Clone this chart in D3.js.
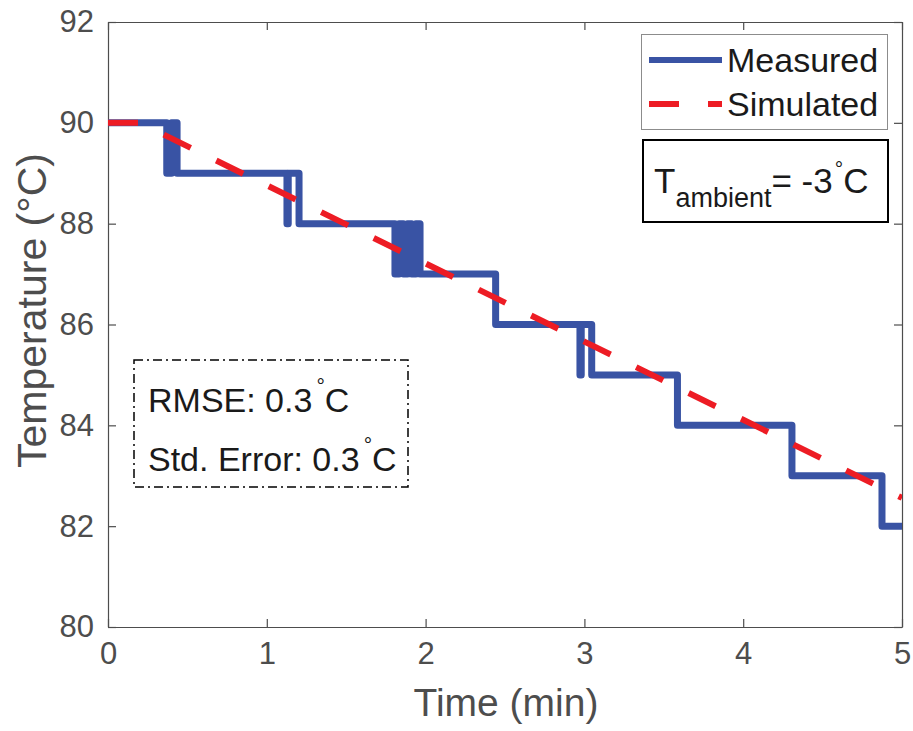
<!DOCTYPE html>
<html>
<head>
<meta charset="utf-8">
<script src="https://cdn.jsdelivr.net/npm/d3@7"></script>
<style>
  html, body { margin: 0; padding: 0; background: #fff; }
  text { font-family: "Liberation Sans", Arial, Helvetica, sans-serif; }
</style>
</head>
<body>
<svg id="chart" width="913" height="731"></svg>
<script>
// ---- data ----
const xTicks = [0, 1, 2, 3, 4, 5];
const yTicks = [80, 82, 84, 86, 88, 90, 92];

const measuredTime = [0, 0.370, 0.370, 0.400, 0.400, 0.435, 0.435,
  1.127, 1.127, 1.135, 1.135, 1.203, 1.203,
  1.807, 1.807, 1.833, 1.833, 1.860, 1.860, 1.886, 1.886, 1.912, 1.912, 1.939, 1.939, 1.965, 1.965,
  2.441, 2.441,
  2.972, 2.972, 2.980, 2.980, 3.046, 3.046,
  3.586, 3.586,
  4.307, 4.307,
  4.874, 4.874, 5.0];
const measuredTemp = [90, 90, 89, 89, 90, 90, 89,
  89, 88, 88, 89, 89, 88,
  88, 87, 87, 88, 88, 87, 87, 88, 88, 87, 87, 88, 88, 87,
  87, 86,
  86, 85, 85, 86, 86, 85,
  85, 84,
  84, 83,
  83, 82, 82];

const simulatedTime = [0, 0.2, 1, 2, 3, 4, 5];
const simulatedTemp = [90, 90, 88.76, 87.21, 85.66, 84.11, 82.56];

const legendLabels = ["Measured", "Simulated"];

// ---- layout ----
const W = 913, H = 731;
const m = { left: 108, right: 11, top: 22, bottom: 104 };
const iw = W - m.left - m.right, ih = H - m.top - m.bottom;
const axisColor = "#4d4d4d";
const blue = "#3953A4", red = "#ED1C24";

const svg = d3.select("#chart");
const x = d3.scaleLinear().domain([0, 5]).range([m.left, m.left + iw]);
const y = d3.scaleLinear().domain([80, 92]).range([m.top + ih, m.top]);

svg.append("defs").append("clipPath").attr("id", "clip")
  .append("rect").attr("x", m.left).attr("y", m.top).attr("width", iw).attr("height", ih);

// axes (box with inward ticks)
const tickLen = 8;
const fs = 31;
const gx = svg.append("g").attr("transform", `translate(0,${m.top + ih})`)
  .call(d3.axisBottom(x).tickValues(xTicks).tickSizeInner(-tickLen).tickSizeOuter(0).tickPadding(14).tickFormat(d3.format("d")));
const gxt = svg.append("g").attr("transform", `translate(0,${m.top})`)
  .call(d3.axisTop(x).tickValues(xTicks).tickSizeInner(-tickLen).tickSizeOuter(0).tickFormat(""));
const gy = svg.append("g").attr("transform", `translate(${m.left},0)`)
  .call(d3.axisLeft(y).tickValues(yTicks).tickSizeInner(-tickLen).tickSizeOuter(0).tickPadding(14).tickFormat(d3.format("d")));
const gyr = svg.append("g").attr("transform", `translate(${m.left + iw},0)`)
  .call(d3.axisRight(y).tickValues(yTicks).tickSizeInner(-tickLen).tickSizeOuter(0).tickFormat(""));
[gx, gxt, gy, gyr].forEach(g => {
  g.select(".domain").attr("stroke", axisColor).attr("stroke-width", 1.2);
  g.selectAll(".tick line").attr("stroke", axisColor).attr("stroke-width", 1.2);
  g.selectAll(".tick text").attr("fill", axisColor).style("font-size", fs + "px")
    .style("font-family", '"Liberation Sans", Arial, sans-serif');
});
gx.selectAll(".tick text").attr("dy", "0.75em");

// axis labels
svg.append("text").attr("x", m.left + iw / 2 + 1).attr("y", 716).attr("text-anchor", "middle")
  .attr("fill", axisColor).style("font-size", "39px").text("Time (min)");
svg.append("text").attr("transform", `translate(46,${m.top + ih / 2 - 14}) rotate(-90)`).attr("text-anchor", "middle")
  .attr("fill", axisColor).style("font-size", "41px").text("Temperature (°C)");

// lines
const plot = svg.append("g").attr("clip-path", "url(#clip)");
const measured = measuredTime.map((t, i) => [t, measuredTemp[i]]);
const simulated = simulatedTime.map((t, i) => [t, simulatedTemp[i]]);
const line = d3.line().x(d => x(d[0])).y(d => y(d[1]));

plot.append("path").datum(measured).attr("d", line)
  .attr("fill", "none").attr("stroke", blue).attr("stroke-width", 7)
  .attr("stroke-linejoin", "round").attr("stroke-linecap", "round");
plot.append("path").datum(simulated).attr("d", line)
  .attr("fill", "none").attr("stroke", red).attr("stroke-width", 6)
  .attr("stroke-dasharray", "30,28.5");

// legend
const lg = svg.append("g");
lg.append("rect").attr("x", 641.5).attr("y", 34.5).attr("width", 246).attr("height", 95)
  .attr("fill", "#fff").attr("stroke", "#8c8c8c").attr("stroke-width", 1);
const legendColors = [blue, red];
legendLabels.forEach((lab, i) => {
  const yy = 60 + i * 44;
  lg.append("line").attr("x1", 649).attr("x2", 722).attr("y1", yy).attr("y2", yy)
    .attr("stroke", legendColors[i]).attr("stroke-width", 6)
    .attr("stroke-dasharray", i === 1 ? "30,29" : null);
  lg.append("text").attr("x", 727).attr("y", yy + 12).attr("fill", "#1a1a1a")
    .style("font-size", "34px").text(lab);
});

// T ambient box
const tb = svg.append("g");
tb.append("rect").attr("x", 643).attr("y", 140).attr("width", 245).attr("height", 82)
  .attr("fill", "#fff").attr("stroke", "#000").attr("stroke-width", 2);
const tt = tb.append("text").attr("x", 654).attr("y", 193).attr("fill", "#1a1a1a").style("font-size", "35px");
tt.append("tspan").text("T");
tt.append("tspan").attr("dy", 14).style("font-size", "27px").text("ambient");
tt.append("tspan").attr("dy", -14).text("= -3");
tt.append("tspan").attr("dy", -17).attr("dx", 2).style("font-size", "21px").text("°");
tt.append("tspan").attr("dy", 17).text("C");

// RMSE box
const rb = svg.append("g");
rb.append("rect").attr("x", 134).attr("y", 360).attr("width", 274).attr("height", 127)
  .attr("fill", "none").attr("stroke", "#000").attr("stroke-width", 1.5)
  .attr("stroke-dasharray", "9,4,2,4");
const rmseLines = ["RMSE: 0.3", "Std. Error: 0.3"];
rmseLines.forEach((s, i) => {
  const t = rb.append("text").attr("x", 148).attr("y", 412 + i * 59).attr("fill", "#1a1a1a").style("font-size", "34px");
  t.append("tspan").text(s);
  t.append("tspan").attr("dy", -19).attr("dx", 4).style("font-size", "21px").text("°");
  t.append("tspan").attr("dy", 19).text("C");
});
</script>
</body>
</html>
